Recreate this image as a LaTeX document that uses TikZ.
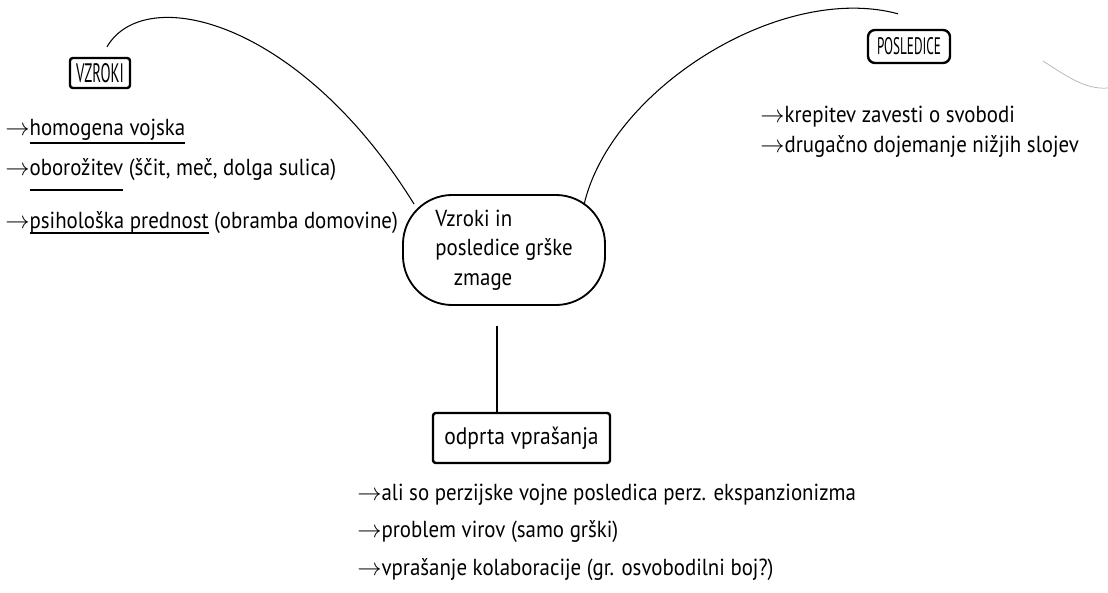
\documentclass[tikz,border=0pt]{standalone}
\usepackage{fontspec}
\setmainfont[FakeStretch=0.9]{PT Sans}
\newfontfamily\narrowfont[FakeStretch=0.55]{PT Sans}
\usetikzlibrary{positioning}
\newcommand\arr{$\rightarrow$}
\newcommand\undl[2][5pt]{\setbox0=\hbox{#2}\rlap{\vrule width\wd0 height -#1 depth \dimexpr#1+1.6pt\relax}\box0\relax}

\begin{document}
\begin{tikzpicture}[x=0.025cm, y=-0.025cm, font=\fontsize{16.5}{21}\selectfont, line join=round]
  \tikzstyle{head} = [rectangle, draw, line width=1.7pt, rounded corners=2, inner sep=0]
  \tikzstyle{caps} = [head, font=\fontsize{19}{22}\narrowfont]
  \tikzstyle{item} = [anchor=base west, inner sep=0]
  \tikzstyle{link} = [line width=0.75pt]
  \useasboundingbox (0,0) rectangle (1108,592);

  % headings and centre
  \node[caps, minimum width=1.5cm,   minimum height=0.75cm]  (vz) at (100,73)    {VZROKI};
  \node[caps, minimum width=2.05cm,  minimum height=0.825cm, rounded corners=5, font=\fontsize{17}{20}\narrowfont]
       (po) at (909,46.5) {POSLEDICE};
  \node[head, minimum width=4.425cm, minimum height=1.25cm, font=\fontsize{17}{20}\selectfont]
       (ov) at (521.5,438) {odprta vprašanja};
  \node[draw, line width=1.3pt, rounded corners=35, minimum width=5.05cm, minimum height=2.75cm, align=left]
       (vp) at (504,250) {Vzroki in\\posledice grške\\\hspace*{0.8em}zmage};

  % vzroki
  \node[item] (vz1) at (5,135) {\arr\undl{homogena vojska}};
  \node[item] (vz2) at (5,175) {\arr\undl[10pt]{oborožitev} (ščit, meč, dolga sulica)};
  \node[item] (vz3) at (5,228) {\arr\undl[3pt]{psihološka prednost} (obramba domovine)};

  % posledice
  \node[item] (po1) at (760,122) {\arr krepitev zavesti o svobodi};
  \node[item] (po2) at (760,152) {\arr drugačno dojemanje nižjih slojev};

  % odprta vprasanja
  \node[item] (ov1) at (357,500) {\arr ali so perzijske vojne posledica perz. ekspanzionizma};
  \node[item] (ov2) at (357,537) {\arr problem virov (samo grški)};
  \node[item] (ov3) at (357,575) {\arr vprašanje kolaboracije (gr. osvobodilni boj?)};

  \draw[link] ([shift={(7,-10)}]vz.north) .. controls (145,-18) and (300,20) .. ([shift={(12,10)}]vp.north west);
  \draw[link] ([shift={(-22,11)}]vp.north east) .. controls (610,90) and (780,-18) .. ([shift={(-11,-15)}]po.north);
  \draw[link] ([shift={(-7,20)}]vp.south) -- ([shift={(-24.5,0)}]ov.north);

  \draw[gray!60, line width=0.5pt] (1043,61) .. controls (1065,75) and (1085,90) .. (1108,88);
\end{tikzpicture}
\end{document}
